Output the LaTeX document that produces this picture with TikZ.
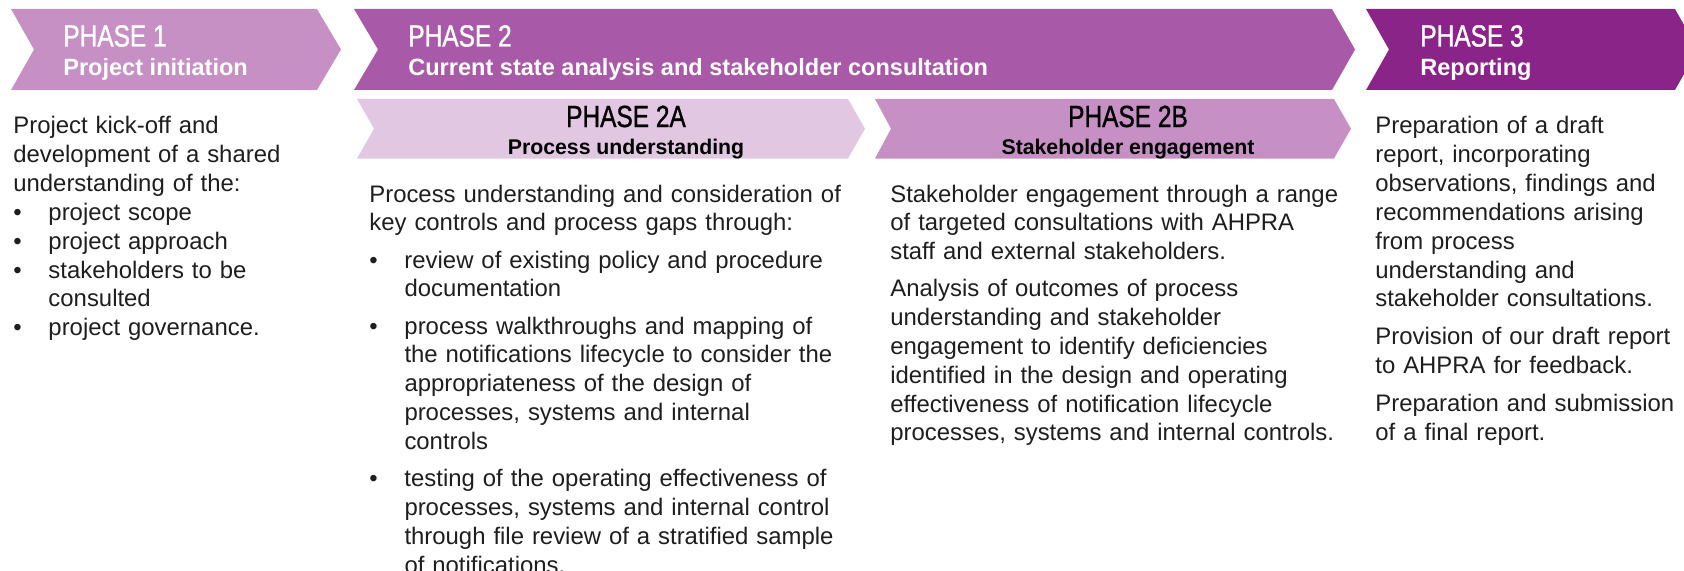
\documentclass[tikz,border=0pt]{standalone}
\usepackage{fontspec}
\setmainfont{Liberation Sans}
\newfontfamily\condfont[FakeStretch=0.8, FakeBold=1.0]{Liberation Sans}
\hyphenpenalty=10000

\definecolor{phaseone}{HTML}{C690C5}
\definecolor{phasetwo}{HTML}{A859A8}
\definecolor{phasethree}{HTML}{8B2489}
\definecolor{phasetwoa}{HTML}{E2C7E2}
\definecolor{bodytext}{HTML}{1E1E1E}

\newcommand{\bitem}[1]{\par\hangindent=20pt\hangafter=1\noindent\makebox[20pt][l]{\textbullet}#1\par}

\tikzset{
	phasehead/.style={anchor=base west, inner sep=0pt, text=white, font=\condfont\fontsize{17.4}{19}\selectfont},
	phasesub/.style={anchor=base west, inner sep=0pt, text=white, font=\bfseries\fontsize{13.4}{15}\selectfont},
	subhead/.style={anchor=base, inner sep=0pt, text=black, font=\condfont\fontsize{17.4}{19}\selectfont},
	subsub/.style={anchor=base, inner sep=0pt, text=black, font=\bfseries\fontsize{12.1}{14}\selectfont},
	bodybox/.style={anchor=base west, inner sep=0pt, text=bodytext, align=left, text width=120mm,
		font=\fontsize{13.6}{16.4}\selectfont},
}

\begin{document}
\begin{tikzpicture}[x=0.2mm, y=-0.2mm]
		\useasboundingbox (0, 0) rectangle (1684, 571);
		\clip (0, 0) rectangle (1684, 571);

		% top row
		\fill[phaseone]		(11, 9) -- (317, 9) -- (341, 49.5) -- (317, 90) -- (11, 90) -- (34, 49.5) -- cycle;
		\fill[phasetwo]		(354, 9) -- (1332, 9) -- (1355, 49.5) -- (1332, 90) -- (354, 90) -- (378, 49.5) -- cycle;
		\fill[phasethree]	(1366, 9) -- (1675, 9) -- (1698, 49.5) -- (1675, 90) -- (1366, 90) -- (1389, 49.5) -- cycle;

		% second row
		\fill[phasetwoa]	(357, 99) -- (848, 99) -- (865, 128.75) -- (848, 158.5) -- (357, 158.5) -- (374, 128.75) -- cycle;
		\fill[phaseone]		(875, 99) -- (1334, 99) -- (1351, 128.75) -- (1334, 158.5) -- (875, 158.5) -- (891, 128.75) -- cycle;

		\node[phasehead] (p1head) at (63, 46.5) {PHASE 1};
		\node[phasesub]  (p1sub)  at (63, 75) {Project initiation};
		\node[phasehead] (p2head) at (408, 46.5) {PHASE 2};
		\node[phasesub]  (p2sub)  at (408, 75) {Current state analysis and stakeholder consultation};
		\node[phasehead] (p3head) at (1420, 46.5) {PHASE 3};
		\node[phasesub]  (p3sub)  at (1420, 75) {Reporting};

		\node[subhead] (p2ahead) at (626, 127) {PHASE 2A};
		\node[subsub]  (p2asub)  at (626, 154) {Process understanding};
		\node[subhead] (p2bhead) at (1128, 127) {PHASE 2B};
		\node[subsub]  (p2bsub)  at (1128, 154) {Stakeholder engagement};

		% body text
		\node[bodybox] (p1text) at (13, 134) {%
			Project kick-off and\newline development of a shared\newline understanding of the:
			\bitem{project scope}
			\bitem{project approach}
			\bitem{stakeholders to be\newline consulted}
			\bitem{project governance.}};
		\node[bodybox] (p2atext) at (369, 202) {\setlength{\parskip}{4.8pt}%
			Process understanding and consideration of\newline key controls and process gaps through:
			\bitem{review of existing policy and procedure\newline documentation}
			\bitem{process walkthroughs and mapping of\newline the notifications lifecycle to consider the\newline appropriateness of the design of\newline processes, systems and internal\newline controls}
			\bitem{testing of the operating effectiveness of\newline processes, systems and internal control\newline through file review of a stratified sample\newline of notifications.}};
		\node[bodybox] (p2btext) at (890, 202) {\setlength{\parskip}{4.8pt}%
			Stakeholder engagement through a range\newline of targeted consultations with AHPRA\newline staff and external stakeholders.\par
			Analysis of outcomes of process\newline understanding and stakeholder\newline engagement to identify deficiencies\newline identified in the design and operating\newline effectiveness of notification lifecycle\newline processes, systems and internal controls.};
		\node[bodybox] (p3text) at (1375, 134) {\setlength{\parskip}{5.2pt}%
			Preparation of a draft\newline report, incorporating\newline observations, findings and\newline recommendations arising\newline from process\newline understanding and\newline stakeholder consultations.\par
			Provision of our draft report\newline to AHPRA for feedback.\par
			Preparation and submission\newline of a final report.};
	\end{tikzpicture}
\end{document}
